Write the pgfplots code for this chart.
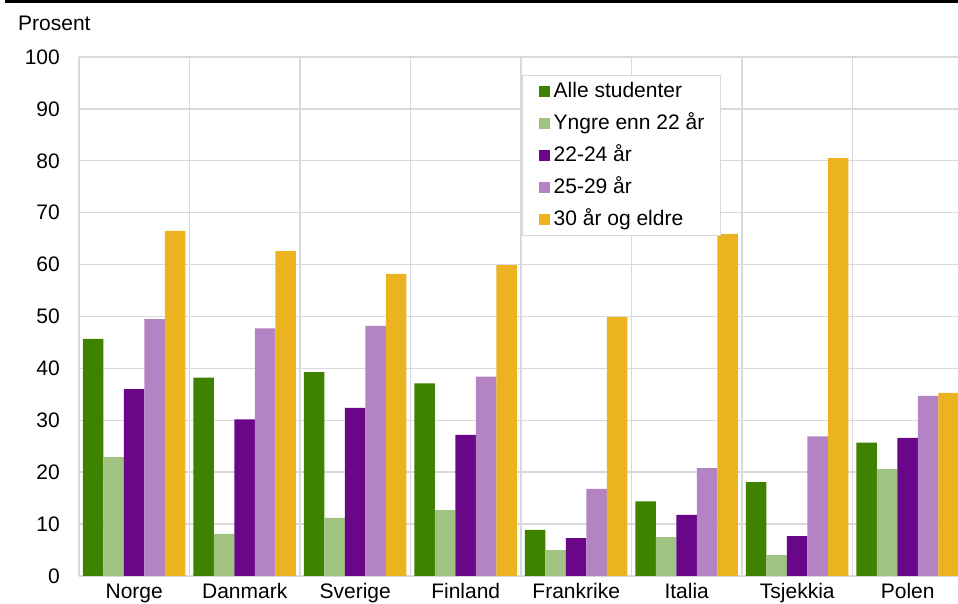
\documentclass[border=0pt]{standalone}
\usepackage{pgfplots}
\pgfplotsset{compat=1.18}
\usepackage{fontspec}
\setmainfont{Liberation Sans}
\definecolor{cA}{HTML}{3E8200}
\definecolor{cB}{HTML}{A0C382}
\definecolor{cC}{HTML}{690788}
\definecolor{cD}{HTML}{B483C3}
\definecolor{cE}{HTML}{EAB31F}
\definecolor{gridc}{HTML}{D9D9D9}
\begin{document}
\begin{tikzpicture}[x=1pt,y=1pt]
\path[use as bounding box] (-79,-28) rectangle (879,576);
\fill[black] (-74,572.5) rectangle (879,576);
\node[anchor=base west, inner sep=0pt, font=\fontsize{21}{25}\selectfont] at (-61,545) {Prosent};
\begin{axis}[at={(0,0)}, anchor=south west, scale only axis, width=880pt, height=519pt,
 ybar=0pt, bar width=20.5pt,
 xmin=-0.5, xmax=7.464, ymin=0, ymax=100,
 ytick={0,10,...,100},
 xtick={0,...,7}, xticklabels={Norge,Danmark,Sverige,Finland,Frankrike,Italia,Tsjekkia,Polen},
 minor xtick={0.5,1.5,...,6.5},
 xmajorgrids=false, ymajorgrids=true, xminorgrids=true,
 grid style={gridc, line width=1.4pt},
 minor grid style={gridc, line width=1.4pt},
 major tick length=0pt, minor tick length=0pt,
 axis x line*=bottom, axis y line*=left,
 axis line style={gridc, line width=1.4pt},
 tick label style={font=\fontsize{21}{25}\selectfont},
 /pgf/number format/assume math mode=true,
 yticklabel style={anchor=east, inner sep=0pt, xshift=-19pt},
 xticklabel style={anchor=base, inner sep=0pt, yshift=-23pt},
 legend image code/.code={\fill[#1] (0pt,-5.5pt) rectangle (11pt,5.5pt); \path (15pt,0pt);},
 legend cell align=left,
 legend style={at={(0.5034,0.9653)}, anchor=north west, draw=gridc, line width=1.4pt, fill=white,
   font=\fontsize{21}{25}\selectfont, inner xsep=16pt, inner ysep=6pt,
   nodes={inner sep=0pt, text height=16pt, text depth=4pt}, row sep=12pt, column sep=0pt},
]
\addplot[fill=cA, draw=none] coordinates {(0,45.7) (1,38.2) (2,39.3) (3,37.1) (4,8.9) (5,14.4) (6,18.1) (7,25.7)};
\addlegendentry{Alle studenter}
\addplot[fill=cB, draw=none] coordinates {(0,22.9) (1,8.1) (2,11.2) (3,12.7) (4,5.0) (5,7.5) (6,4.0) (7,20.6)};
\addlegendentry{Yngre enn 22 år}
\addplot[fill=cC, draw=none] coordinates {(0,36.0) (1,30.2) (2,32.4) (3,27.2) (4,7.3) (5,11.8) (6,7.7) (7,26.6)};
\addlegendentry{22-24 år}
\addplot[fill=cD, draw=none] coordinates {(0,49.5) (1,47.7) (2,48.2) (3,38.4) (4,16.8) (5,20.8) (6,26.9) (7,34.7)};
\addlegendentry{25-29 år}
\addplot[fill=cE, draw=none] coordinates {(0,66.5) (1,62.6) (2,58.2) (3,59.9) (4,49.9) (5,65.9) (6,80.5) (7,35.3)};
\addlegendentry{30 år og eldre}
\end{axis}
\end{tikzpicture}
\end{document}
